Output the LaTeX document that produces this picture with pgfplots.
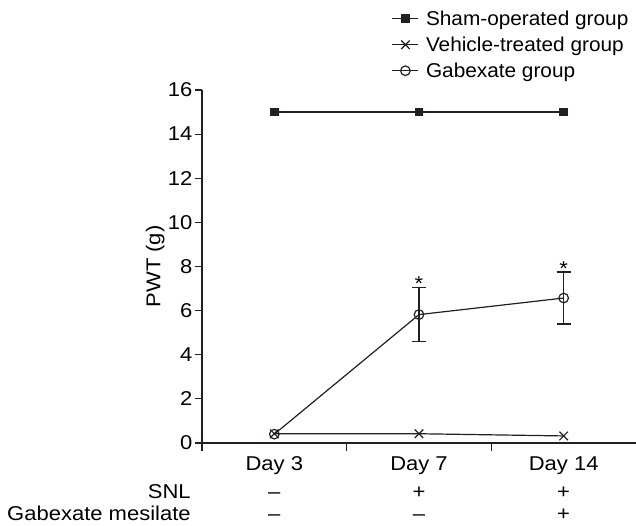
\documentclass[border=0pt]{standalone}
\usepackage{fontspec}
\setmainfont{Liberation Sans}[FakeStretch=1.1]
\newfontfamily\legfont{Liberation Sans}[FakeStretch=1.04]
\usepackage{pgfplots}
\pgfplotsset{compat=1.18}
\definecolor{ink}{HTML}{231F20}

\begin{document}
\begin{tikzpicture}
\begin{axis}[
  scale only axis, width=434pt, height=353pt,
  xmin=-0.5, xmax=2.5, ymin=0, ymax=16,
  axis lines*=left,
  axis line style={ink, line width=1.2pt},
  every tick/.style={ink, line width=1.2pt},
  font=\fontsize{20}{22}\selectfont,
  tick align=outside,
  xtick={0,1,2},
  xticklabels={{Day 3\\[6pt]–\\–},{Day 7\\[6pt]+\\–},{Day 14\\[6pt]+\\+}},
  xticklabel style={align=center, anchor=north, yshift=-3pt},
  major x tick style={draw=none},
  minor xtick={-0.5,0.5,1.5},
  minor tick length=8pt,
  major tick length=7pt,
  ytick={0,2,...,16},
  yticklabel style={xshift=1pt},
  ylabel={PWT (g)},
  ylabel style={at={(axis description cs:-0.108,0.5)}, anchor=center},
  /pgf/number format/assume math mode=true,
  legend style={draw=none, fill=none, at={(axis description cs:0.43,1.02)},
    anchor=south west, legend cell align=left, row sep=6pt,
    font=\legfont\fontsize{20}{22}\selectfont},
  legend image code/.code={\draw[mark repeat=2, mark phase=2, #1]
    plot coordinates {(0pt,0pt)(13pt,0pt)(26pt,0pt)};
    \path (31pt,0pt);},
  clip=false,
]
\addplot[ink, line width=1.2pt, mark=square*, mark size=3.8pt]
  coordinates {(0,15) (1,15) (2,15)};
\addplot[ink, line width=1.2pt, mark=x, mark size=6pt]
  coordinates {(0,0.42) (1,0.42) (2,0.32)};
\addplot[ink, line width=1.2pt, mark=o, mark size=4.8pt]
  coordinates {(0,0.4) (1,5.82) (2,6.57)};
% error bars for day 7 and day 14 only
\addplot[forget plot, draw=none, ink, error bars/.cd, y dir=both, y explicit,
  error bar style={line width=1.2pt, ink},
  error mark options={rotate=90, mark size=7pt, line width=1.2pt, ink}]
  coordinates {(1,5.82) +- (0,1.23) (2,6.57) +- (0,1.18)};
\legend{Sham-operated group, Vehicle-treated group, Gabexate group}

\node[anchor=base, yshift=-3pt] at (axis cs:1,7.05) {*};
\node[anchor=base, yshift=-3pt] at (axis cs:2,7.75) {*};
\node[anchor=north east, align=right, yshift=-10pt]
  at (axis description cs:-0.018,0) {\phantom{Day 3}\\[6pt]SNL\\Gabexate mesilate};
\coordinate (O) at (rel axis cs:0,0);
\end{axis}
\pgfresetboundingbox
\path (O) ++(-202pt,-83pt) rectangle ++(636pt,526pt);
\end{tikzpicture}
\end{document}
